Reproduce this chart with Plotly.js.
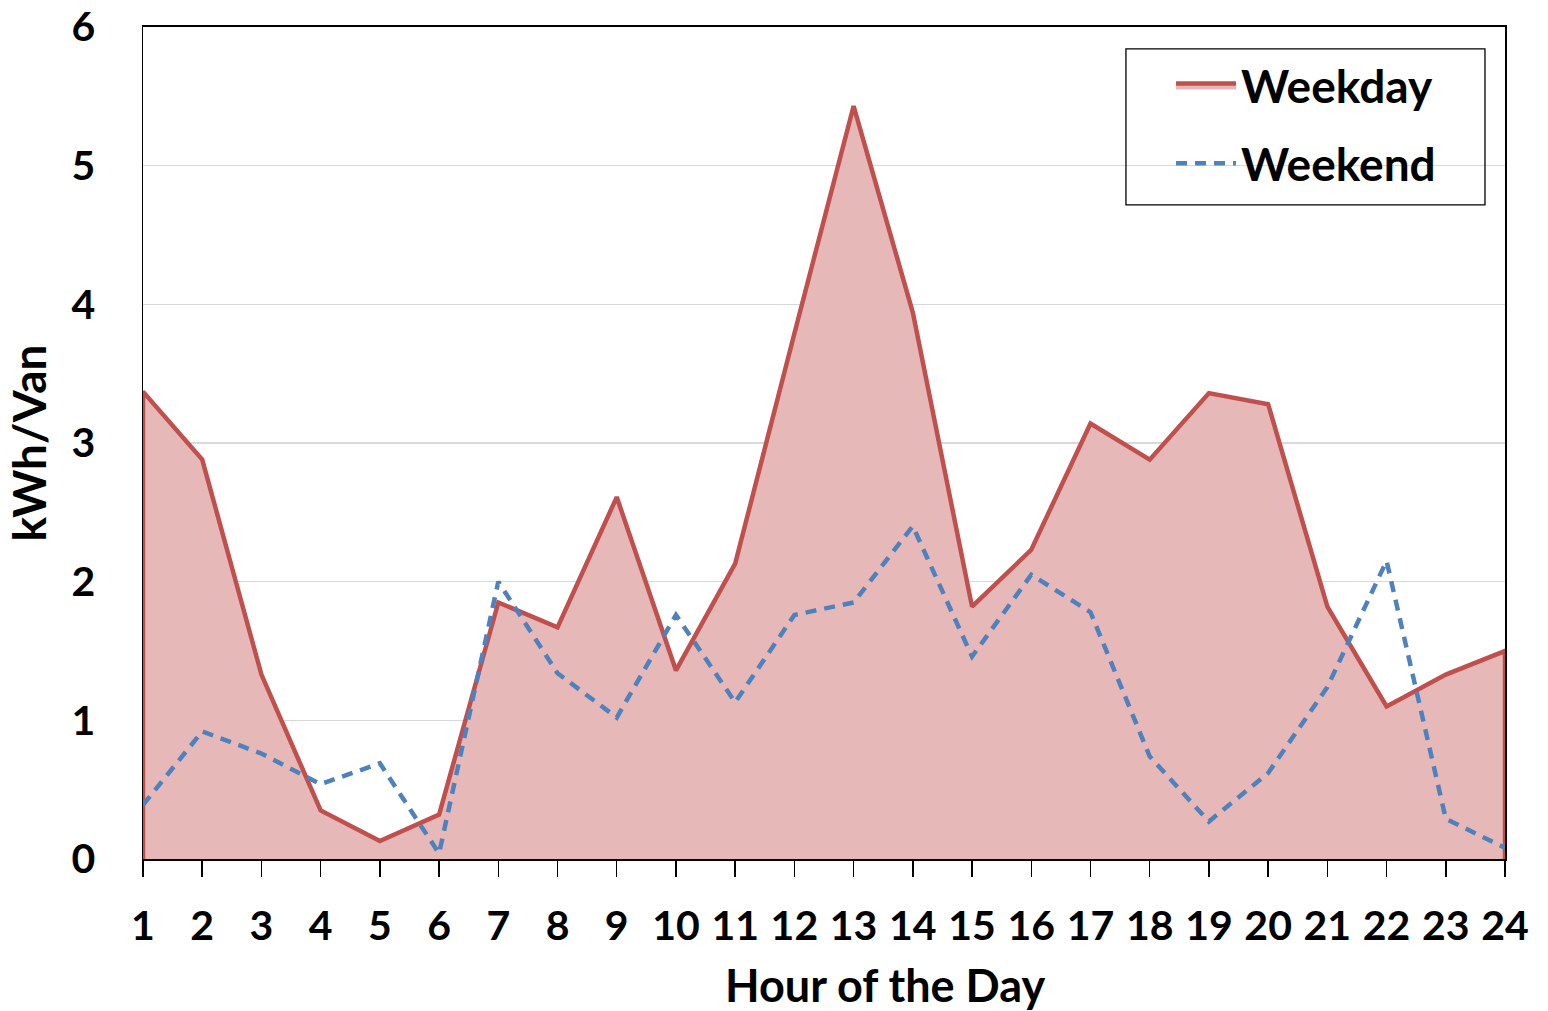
<!DOCTYPE html>
<html>
<head>
<meta charset="utf-8">
<script src="https://cdn.plot.ly/plotly-3.0.1.min.js"></script>
<style>
  html, body { margin: 0; padding: 0; background: #ffffff; }
  #chart { width: 1548px; height: 1011px; }
</style>
</head>
<body>
<div id="chart"></div>
<script>
const hours = [1,2,3,4,5,6,7,8,9,10,11,12,13,14,15,16,17,18,19,20,21,22,23,24];
const hourLabels = hours.map(String);
const weekday = [3.37,2.88,1.33,0.35,0.13,0.32,1.85,1.67,2.61,1.36,2.13,3.79,5.43,3.94,1.82,2.23,3.14,2.88,3.36,3.28,1.82,1.10,1.33,1.50];
const weekend = [0.39,0.92,0.76,0.54,0.69,0.04,2.00,1.34,1.02,1.76,1.13,1.76,1.85,2.40,1.46,2.05,1.78,0.74,0.27,0.62,1.24,2.15,0.29,0.08];
const yTicks = [0,1,2,3,4,5,6];

const FONT = 'Lato, Calibri, Carlito, sans-serif';

// Weekday area: closed polygon down to the axis base so the outline includes the side edges
const wdX = [hours[0]].concat(hours, [hours[hours.length-1]]);
const wdY = [0].concat(weekday, [0]);

const traces = [
  {
    x: wdX, y: wdY, name: 'Weekday', type: 'scatter', mode: 'lines',
    fill: 'toself', fillcolor: '#E6B9B8', legendgroup: 'wd',
    line: {color: '#C0504D', width: 4.5, shape: 'linear'},
    hoverinfo: 'skip'
  },
  {
    x: hours, y: weekend, name: 'Weekend', type: 'scatter', mode: 'lines', legendgroup: 'we',
    line: {color: '#4F81BD', width: 4.5, dash: '11px,8px'}
  }
];

const layout = {
  width: 1548, height: 1011,
  paper_bgcolor: '#ffffff', plot_bgcolor: '#ffffff',
  margin: {l: 143, r: 43, t: 27, b: 152},
  font: {family: FONT, color: '#000000', size: 40, weight: 700},
  showlegend: true,
  legend: {
    x: 0.7548, y: 0.9735, xanchor: 'left', yanchor: 'top',
    bgcolor: 'rgba(0,0,0,0)', borderwidth: 0,
    font: {family: FONT, size: 46, color: '#000000', weight: 700},
    tracegroupgap: 15, itemwidth: 60
  },
  shapes: [
    {type: 'rect', xref: 'paper', yref: 'paper', layer: 'above',
     x0: 0.7217, x1: 0.9853, y0: 0.7861, y1: 0.9736,
     line: {color: '#000000', width: 1.3}, fillcolor: 'rgba(0,0,0,0)'}
  ],
  xaxis: {
    range: [1, 24], tickmode: 'array', tickvals: hours, ticktext: hourLabels,
    showgrid: false, zeroline: false,
    showline: true, linecolor: '#000000', linewidth: 2, mirror: true,
    ticks: 'outside', ticklen: 16, tickwidth: 1.5, tickcolor: '#000000',
    ticklabelstandoff: 14,
    tickfont: {family: FONT, size: 41, color: '#000000', weight: 700}
  },
  yaxis: {
    range: [0, 6], tickmode: 'array', tickvals: yTicks, ticktext: yTicks.map(String),
    showgrid: true, gridcolor: '#D9D9D9', gridwidth: 1.5, zeroline: false,
    showline: true, linecolor: '#000000', linewidth: 1.5, mirror: true,
    ticks: '', ticklabelstandoff: 38,
    tickfont: {family: FONT, size: 41, color: '#000000', weight: 700},
    title: {text: 'kWh/Van', font: {family: FONT, size: 46, color: '#000000', weight: 700}, standoff: 10}
  },
  annotations: [
    {
      text: 'Hour of the Day', xref: 'paper', yref: 'paper',
      x: 0.545, y: -0.151, xanchor: 'center', yanchor: 'middle', showarrow: false,
      font: {family: FONT, size: 45, color: '#000000', weight: 700}
    }
  ]
};

Plotly.newPlot('chart', traces, layout, {displayModeBar: false, staticPlot: true});
</script>
</body>
</html>
